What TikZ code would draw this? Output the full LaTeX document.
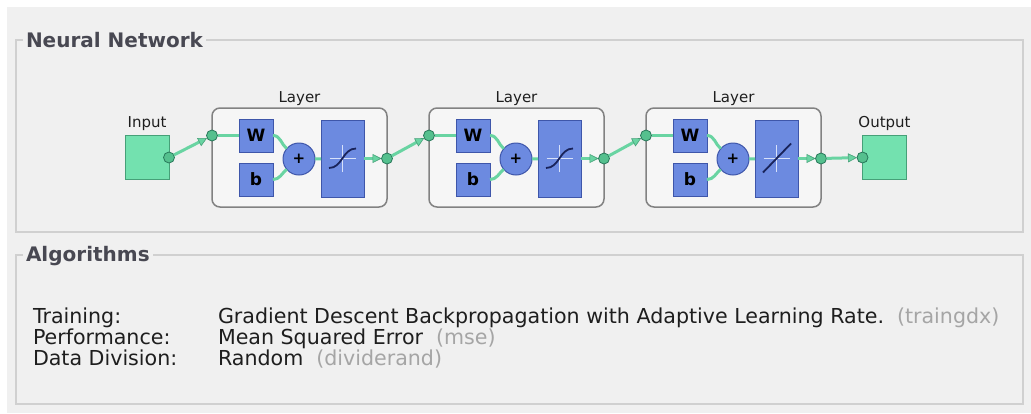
\documentclass[tikz,border=0pt]{standalone}
\usepackage{fontspec}
\setmainfont{DejaVu Sans}
\usepackage{xcolor}
\usetikzlibrary{positioning, arrows.meta}
\definecolor{panelgray}{RGB}{240,240,240}
\definecolor{groupline}{RGB}{208,208,208}
\definecolor{titlegray}{RGB}{72,72,82}
\definecolor{textdark}{RGB}{30,30,30}
\definecolor{hintgray}{RGB}{165,165,165}
\definecolor{layerfill}{RGB}{246,246,246}
\definecolor{layerline}{RGB}{130,130,130}
\definecolor{bluefill}{RGB}{108,138,224}
\definecolor{blueedge}{RGB}{62,86,170}
\definecolor{greenfill}{RGB}{115,225,175}
\definecolor{greenedge}{RGB}{70,160,120}
\definecolor{wiregreen}{RGB}{105,212,162}
\definecolor{dotfill}{RGB}{85,192,142}
\definecolor{dotedge}{RGB}{40,120,90}
\definecolor{glyphnavy}{RGB}{25,35,90}
\definecolor{crosswhite}{RGB}{215,225,250}

\begin{document}
\begin{tikzpicture}[
        x=1pt, y=1pt,
        every node/.style={inner sep=0pt, outer sep=0pt},
        groupbox/.style={draw=groupline, line width=1.5pt},
        grouptitle/.style={anchor=base west, fill=panelgray, inner xsep=3pt, inner ysep=1pt, text=titlegray, font=\fontsize{20}{24}\selectfont\bfseries},
        algtext/.style={anchor=base west, text=textdark, font=\fontsize{20.6}{24}\selectfont},
        smalltext/.style={text=textdark, font=\fontsize{15}{18}\selectfont},
        layerbox/.style={rectangle, draw=layerline, line width=1.5pt, fill=layerfill, rounded corners=8pt, minimum width=175pt, minimum height=99pt},
        iobox/.style={rectangle, draw=greenedge, fill=greenfill, line width=1pt, minimum width=44pt, minimum height=44pt},
        wbox/.style={rectangle, draw=blueedge, fill=bluefill, line width=1pt, minimum width=34pt, minimum height=33pt, font=\fontsize{17}{20}\selectfont\bfseries},
        sumnode/.style={circle, draw=blueedge, fill=bluefill, line width=1pt, minimum size=32pt, font=\fontsize{15}{18}\selectfont\bfseries},
        actbox/.style={rectangle, draw=blueedge, fill=bluefill, line width=1pt, minimum width=43pt, minimum height=77pt},
        crossline/.style={draw=crosswhite, line width=0.8pt},
        glyph/.style={draw=glyphnavy, line width=1.8pt},
        tansig/.style={actbox, path picture={
            \draw[crossline, shift={(path picture bounding box.center)}] (-13,0) -- (13,0) (0,-13.5) -- (0,13.5);
            \draw[glyph, shift={(path picture bounding box.center)}] (-13.5,-9.5) .. controls (0,-9.5) and (0,10) .. (13.5,10);}},
        purelin/.style={actbox, path picture={
            \draw[crossline, shift={(path picture bounding box.center)}] (-13,0) -- (13,0) (0,-13.5) -- (0,13.5);
            \draw[glyph, shift={(path picture bounding box.center)}] (-13.5,-14) -- (14.5,15);}},
        dot/.style={circle, draw=dotedge, fill=dotfill, line width=0.8pt, minimum size=11pt},
        wire/.style={draw=wiregreen, line width=3pt},
        arrow/.style={wire, -{Triangle[length=9pt, width=9pt, line width=0.6pt, color=greenedge, fill=wiregreen]}}
    ]

    % Panel and group boxes
    \useasboundingbox (0,0) rectangle (1031,-413);
    \fill[panelgray] (7,-7) rectangle (1031,-413);
    \draw[groupbox] (16,-40) rectangle (1023,-232);
    \draw[groupbox] (16,-255) rectangle (1023,-404);
    \node[grouptitle] (nettitle) at (23,-47) {Neural Network};
    \node[grouptitle] (algtitle) at (23,-261) {Algorithms};

    % Input
    \node[iobox] (input) at (147,-157.5) {};
    \node[smalltext, above=5pt of input] (inputlbl) {Input};
    \node[dot] (inputdot) at (input.east) {};

    % Layer 1
    \node[layerbox] (layer1) at (299.5,-157.5) {};
    \node[smalltext, above=2pt of layer1] (layer1lbl) {Layer};
    \node[wbox] (w1) at (256,-135.5) {W};
    \node[wbox, below=11pt of w1] (b1) {b};
    \node[sumnode] (sum1) at (299,-159) {+};
    \node[tansig] (act1) at (342.5,-158.5) {};
    \node[dot] (in1) at (layer1.west |- w1) {};
    \node[dot] (out1) at (layer1.east |- act1) {};

    % Layer 2
    \node[layerbox] (layer2) at (516.5,-157.5) {};
    \node[smalltext, above=2pt of layer2] (layer2lbl) {Layer};
    \node[wbox] (w2) at (473,-135.5) {W};
    \node[wbox, below=11pt of w2] (b2) {b};
    \node[sumnode] (sum2) at (516,-159) {+};
    \node[tansig] (act2) at (559.5,-158.5) {};
    \node[dot] (in2) at (layer2.west |- w2) {};
    \node[dot] (out2) at (layer2.east |- act2) {};

    % Layer 3
    \node[layerbox] (layer3) at (733.5,-157.5) {};
    \node[smalltext, above=2pt of layer3] (layer3lbl) {Layer};
    \node[wbox] (w3) at (690,-135.5) {W};
    \node[wbox, below=11pt of w3] (b3) {b};
    \node[sumnode] (sum3) at (733,-159) {+};
    \node[purelin] (act3) at (776.5,-158.5) {};
    \node[dot] (in3) at (layer3.west |- w3) {};
    \node[dot] (out3) at (layer3.east |- act3) {};

    % Output
    \node[iobox] (output) at (884.5,-157.5) {};
    \node[smalltext, above=5pt of output] (outputlbl) {Output};
    \node[dot] (outputdot) at (output.west) {};

    % Wires
    \draw[arrow] (inputdot) -- (in1);
    \draw[wire] (in1) -- (w1);
    \draw[wire] (w1.east) to[out=0, in=140] (sum1);
    \draw[wire] (b1.east) to[out=0, in=-140] (sum1);
    \draw[wire] (sum1) -- (act1);
    \draw[arrow] (act1) -- (out1);
    \draw[arrow] (out1) -- (in2);
    \draw[wire] (in2) -- (w2);
    \draw[wire] (w2.east) to[out=0, in=140] (sum2);
    \draw[wire] (b2.east) to[out=0, in=-140] (sum2);
    \draw[wire] (sum2) -- (act2);
    \draw[arrow] (act2) -- (out2);
    \draw[arrow] (out2) -- (in3);
    \draw[wire] (in3) -- (w3);
    \draw[wire] (w3.east) to[out=0, in=140] (sum3);
    \draw[wire] (b3.east) to[out=0, in=-140] (sum3);
    \draw[wire] (sum3) -- (act3);
    \draw[arrow] (act3) -- (out3);
    \draw[arrow] (out3) -- (outputdot);

    % Algorithms
    \node[algtext] (trainlbl) at (33,-323) {Training:};
    \node[algtext] (perflbl) at (33,-344) {Performance:};
    \node[algtext] (divlbl) at (33,-365) {Data Division:};
    \node[algtext] (trainval) at (218,-323) {Gradient Descent Backpropagation with Adaptive Learning Rate.\hspace{13pt}\textcolor{hintgray}{(traingdx)}};
    \node[algtext] (perfval) at (218,-344) {Mean Squared Error\hspace{13pt}\textcolor{hintgray}{(mse)}};
    \node[algtext] (divval) at (218,-365) {Random\hspace{13pt}\textcolor{hintgray}{(dividerand)}};

\end{tikzpicture}
\end{document}
